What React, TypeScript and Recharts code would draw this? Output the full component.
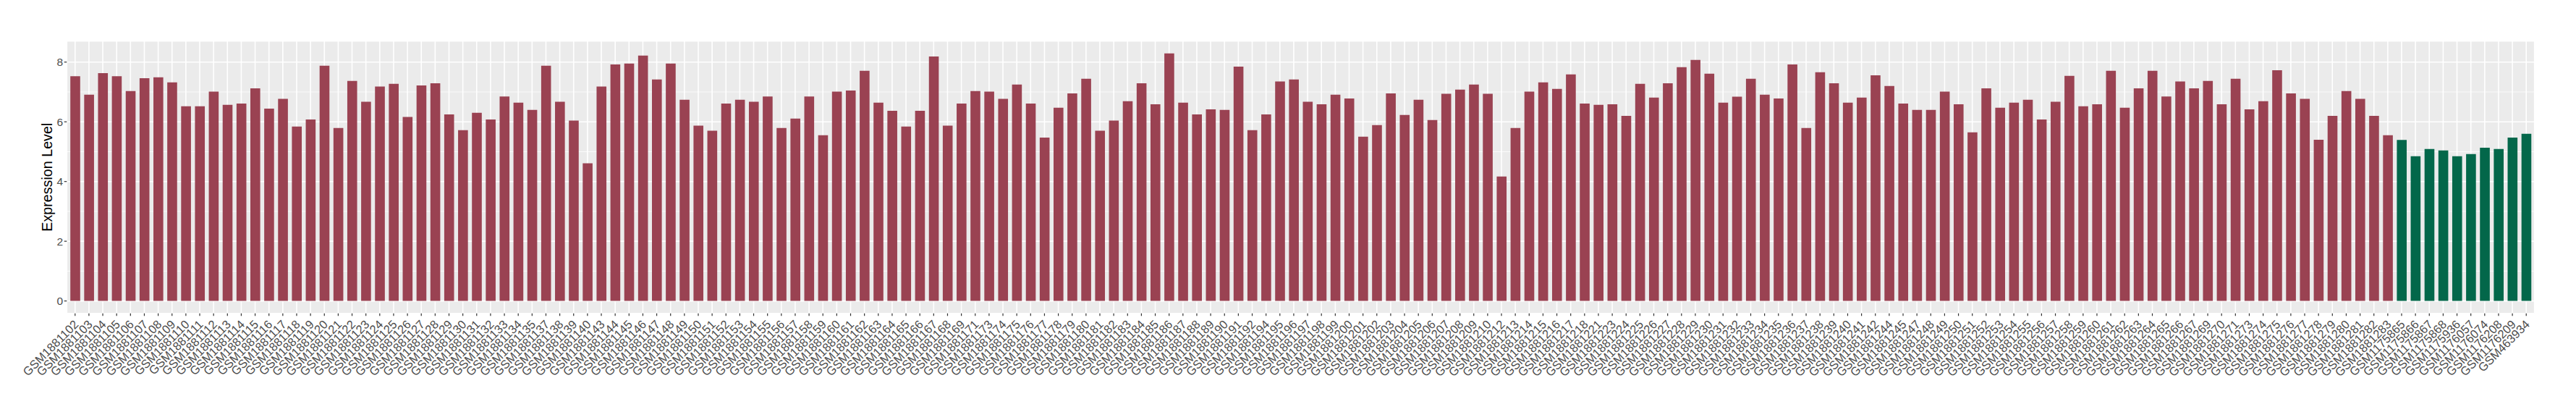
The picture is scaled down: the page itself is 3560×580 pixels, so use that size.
import {Bar, BarChart, CartesianGrid, Cell, XAxis, YAxis} from 'recharts'

const tumorSamples = [
    'GSM1881102', 'GSM1881103', 'GSM1881104', 'GSM1881105', 'GSM1881106', 'GSM1881107', 'GSM1881108', 'GSM1881109', 'GSM1881110', 'GSM1881111',
    'GSM1881112', 'GSM1881113', 'GSM1881114', 'GSM1881115', 'GSM1881116', 'GSM1881117', 'GSM1881118', 'GSM1881119', 'GSM1881120', 'GSM1881121',
    'GSM1881122', 'GSM1881123', 'GSM1881124', 'GSM1881125', 'GSM1881126', 'GSM1881127', 'GSM1881128', 'GSM1881129', 'GSM1881130', 'GSM1881131',
    'GSM1881132', 'GSM1881133', 'GSM1881134', 'GSM1881135', 'GSM1881137', 'GSM1881138', 'GSM1881139', 'GSM1881140', 'GSM1881143', 'GSM1881144',
    'GSM1881145', 'GSM1881146', 'GSM1881147', 'GSM1881148', 'GSM1881149', 'GSM1881150', 'GSM1881151', 'GSM1881152', 'GSM1881153', 'GSM1881154',
    'GSM1881155', 'GSM1881156', 'GSM1881157', 'GSM1881158', 'GSM1881159', 'GSM1881160', 'GSM1881161', 'GSM1881162', 'GSM1881163', 'GSM1881164',
    'GSM1881165', 'GSM1881166', 'GSM1881167', 'GSM1881168', 'GSM1881169', 'GSM1881171', 'GSM1881173', 'GSM1881174', 'GSM1881175', 'GSM1881176',
    'GSM1881177', 'GSM1881178', 'GSM1881179', 'GSM1881180', 'GSM1881181', 'GSM1881182', 'GSM1881183', 'GSM1881184', 'GSM1881185', 'GSM1881186',
    'GSM1881187', 'GSM1881188', 'GSM1881189', 'GSM1881190', 'GSM1881191', 'GSM1881192', 'GSM1881194', 'GSM1881195', 'GSM1881196', 'GSM1881197',
    'GSM1881198', 'GSM1881199', 'GSM1881200', 'GSM1881201', 'GSM1881202', 'GSM1881203', 'GSM1881204', 'GSM1881205', 'GSM1881206', 'GSM1881207',
    'GSM1881208', 'GSM1881209', 'GSM1881210', 'GSM1881212', 'GSM1881213', 'GSM1881214', 'GSM1881215', 'GSM1881216', 'GSM1881217', 'GSM1881218',
    'GSM1881221', 'GSM1881223', 'GSM1881224', 'GSM1881225', 'GSM1881226', 'GSM1881227', 'GSM1881228', 'GSM1881229', 'GSM1881230', 'GSM1881231',
    'GSM1881232', 'GSM1881233', 'GSM1881234', 'GSM1881235', 'GSM1881236', 'GSM1881237', 'GSM1881238', 'GSM1881239', 'GSM1881240', 'GSM1881241',
    'GSM1881242', 'GSM1881244', 'GSM1881245', 'GSM1881247', 'GSM1881248', 'GSM1881249', 'GSM1881250', 'GSM1881251', 'GSM1881252', 'GSM1881253',
    'GSM1881254', 'GSM1881255', 'GSM1881256', 'GSM1881257', 'GSM1881258', 'GSM1881259', 'GSM1881260', 'GSM1881261', 'GSM1881262', 'GSM1881263',
    'GSM1881264', 'GSM1881265', 'GSM1881266', 'GSM1881267', 'GSM1881269', 'GSM1881270', 'GSM1881271', 'GSM1881273', 'GSM1881274', 'GSM1881275',
    'GSM1881276', 'GSM1881277', 'GSM1881278', 'GSM1881279', 'GSM1881280', 'GSM1881281', 'GSM1881282', 'GSM1881283',
]

const tumorValues = [
    7.53, 6.91, 7.63, 7.53, 7.03, 7.46, 7.49, 7.32, 6.52, 6.52,
    7.01, 6.57, 6.61, 7.12, 6.44, 6.77, 5.84, 6.08, 7.88, 5.79,
    7.37, 6.67, 7.18, 7.27, 6.16, 7.22, 7.29, 6.25, 5.72, 6.30,
    6.08, 6.85, 6.64, 6.40, 7.88, 6.67, 6.04, 4.61, 7.18, 7.92,
    7.95, 8.22, 7.42, 7.95, 6.74, 5.87, 5.70, 6.61, 6.74, 6.67,
    6.85, 5.79, 6.11, 6.85, 5.55, 7.01, 7.05, 7.71, 6.64, 6.37,
    5.84, 6.37, 8.19, 5.87, 6.61, 7.03, 7.01, 6.77, 7.25, 6.61,
    5.47, 6.47, 6.95, 7.44, 5.70, 6.04, 6.69, 7.29, 6.59, 8.29,
    6.64, 6.25, 6.42, 6.40, 7.85, 5.72, 6.25, 7.35, 7.42, 6.67,
    6.59, 6.91, 6.78, 5.50, 5.89, 6.95, 6.23, 6.74, 6.06, 6.94,
    7.08, 7.25, 6.94, 4.17, 5.79, 7.01, 7.32, 7.10, 7.59, 6.61,
    6.57, 6.59, 6.20, 7.27, 6.81, 7.29, 7.83, 8.07, 7.61, 6.64,
    6.84, 7.44, 6.91, 6.78, 7.92, 5.79, 7.66, 7.29, 6.64, 6.81,
    7.56, 7.20, 6.61, 6.40, 6.40, 7.01, 6.59, 5.65, 7.12, 6.47,
    6.64, 6.74, 6.08, 6.67, 7.54, 6.52, 6.59, 7.71, 6.47, 7.12,
    7.71, 6.85, 7.35, 7.12, 7.37, 6.59, 7.44, 6.42, 6.69, 7.73,
    6.95, 6.77, 5.40, 6.20, 7.03, 6.77, 6.20, 5.55,
]

const normalSamples = [
    'GSM1175865', 'GSM1175866', 'GSM1175867', 'GSM1175868', 'GSM1175936',
    'GSM1176057', 'GSM1176074', 'GSM1176208', 'GSM1176209', 'GSM463934',
]

const normalValues = [5.39, 4.85, 5.09, 5.04, 4.85, 4.92, 5.13, 5.09, 5.47, 5.60]

const yTicks = [0, 2, 4, 6, 8]
const yMinorTicks = [1, 3, 5, 7]

const TUMOR_COLOR = '#9A4252'
const NORMAL_COLOR = '#03674A'
const FONT = '"Liberation Sans", Arial, Helvetica, sans-serif'

const data = [
    ...tumorSamples.map((sample, i) => ({sample, value: tumorValues[i], group: 'tumor'})),
    ...normalSamples.map((sample, i) => ({sample, value: normalValues[i], group: 'normal'})),
]

// ggplot style expansion: 5% of the range on each side
const maxValue = Math.max(...data.map(d => d.value))
const yDomain = [-0.05 * maxValue, 1.05 * maxValue]

const XTick = (props: any) => {
    const {x, y, payload} = props
    const ax = x + 5.8
    const ay = y + 12.7
    return (
        <text x={ax} y={ay} transform={`rotate(-45, ${ax}, ${ay})`} textAnchor="end"
              fontSize={16.5} fill="#4D4D4D" fontFamily={FONT}>
            {payload.value}
        </text>
    )
}

const YTitle = (props: any) => {
    const vb = props.viewBox || {x: 0, y: 56.7, width: 92.3, height: 376}
    const cx = vb.x + 72.5
    const cy = vb.y + vb.height / 2
    return (
        <text x={cx} y={cy} transform={`rotate(-90, ${cx}, ${cy})`} textAnchor="middle"
              fontSize={19.7} fill="#000000" fontFamily={FONT}>
            Expression Level
        </text>
    )
}

const App = () => {
    return (
        <div style={{position: 'absolute', left: 0, top: 0, background: '#FFFFFF'}}>
            <BarChart
                width={3560}
                height={580}
                data={data}
                margin={{top: 56.7, right: 57.3, bottom: 0, left: 0}}
            >
                <CartesianGrid fill="#EBEBEB" stroke="#FFFFFF" strokeWidth={0.8}
                               horizontalValues={yMinorTicks} vertical={false} />
                <CartesianGrid stroke="#FFFFFF" strokeWidth={1.6} />
                <XAxis
                    dataKey="sample"
                    interval={0}
                    height={147.3}
                    padding={{left: 1.9, right: 1.9}}
                    axisLine={false}
                    tickSize={3.6}
                    tickMargin={0}
                    tickLine={{stroke: '#333333', strokeWidth: 1.2}}
                    tick={<XTick />}
                />
                <YAxis
                    type="number"
                    domain={yDomain}
                    allowDataOverflow
                    ticks={yTicks}
                    width={92.3}
                    axisLine={false}
                    tickSize={3.6}
                    tickMargin={1.5}
                    tickLine={{stroke: '#333333', strokeWidth: 1.2}}
                    tick={{fontSize: 15.5, fill: '#4D4D4D', fontFamily: FONT}}
                    label={<YTitle />}
                />
                <Bar dataKey="value" barSize={13.6} isAnimationActive={false}>
                    {data.map((entry, index) => (
                        <Cell key={`cell-${index}`} fill={entry.group === 'tumor' ? TUMOR_COLOR : NORMAL_COLOR} />
                    ))}
                </Bar>
            </BarChart>
        </div>
    )
}

export default App
